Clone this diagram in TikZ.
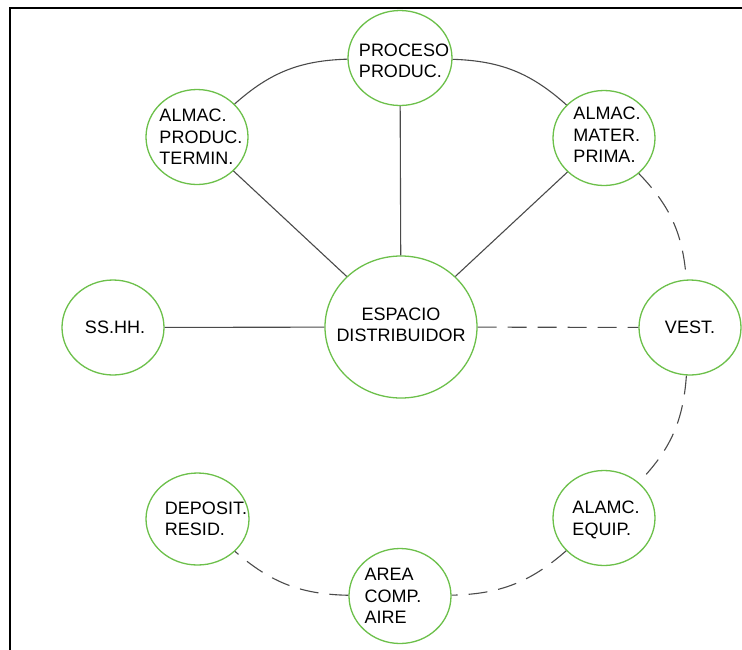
\documentclass[tikz,border=0pt]{standalone}
\usepackage{fontspec}
\setmainfont{Liberation Sans}
\usetikzlibrary{shapes.geometric}
\definecolor{ringgreen}{HTML}{6CC04A}
\definecolor{linkgray}{HTML}{4A4A4A}
\begin{document}
\begin{tikzpicture}[x=1pt,y=1pt,
  room/.style={ellipse, draw=ringgreen, line width=1.3pt, fill=white,
    inner sep=0pt, minimum width=102pt, minimum height=95pt},
  hub/.style={room, minimum width=152pt, minimum height=142pt},
  roomtext/.style={inner sep=0pt, align=left,
    font=\fontsize{18}{21.3}\selectfont},
  link/.style={draw=linkgray, line width=1.1pt},
  dlink/.style={link, dash pattern=on 19pt off 11pt}]
\useasboundingbox (0,0) rectangle (742,-649);
% page frame
\begin{scope}
  \clip (0,0) rectangle (742,-649);
  \draw[line width=1.5pt] (10,-8) rectangle (800,-700);
\end{scope}

% room outlines
\node[hub]  (esp)   at (401,-327) {};
\node[room, minimum width=104pt] (proc) at (400,-58) {};
\node[room] (term)  at (197,-137) {};
\node[room] (mat)   at (604,-138) {};
\node[room] (ss)    at (113,-327.5) {};
\node[room] (vest)  at (690,-327.5) {};
\node[room] (equip) at (604,-518) {};
\node[room, minimum width=103pt, minimum height=92pt] (dep) at (197.5,-519) {};
\node[room] (aire)  at (400,-596) {};

% room names
\node[roomtext, align=center] (esp-t) at (401,-324.5) {ESPACIO\\DISTRIBUIDOR};
\node[roomtext] (proc-t)  at (404,-61)  {PROCESO\\PRODUC.};
\node[roomtext] (term-t)  at (201,-137) {ALMAC.\\PRODUC.\\TERMIN.};
\node[roomtext] (mat-t)   at (607,-135) {ALMAC.\\MATER.\\PRIMA.};
\node[roomtext] (ss-t)    at (115,-327) {SS.HH.};
\node[roomtext] (vest-t)  at (690,-327) {VEST.};
\node[roomtext] (equip-t) at (606,-520) {ALAMC.\\EQUIP.};
\node[roomtext] (dep-t)   at (206,-519) {DEPOSIT.\\RESID.};
\node[roomtext] (aire-t)  at (393,-596) {AREA\\COMP.\\AIRE};

% solid links
\draw[link] (proc) to[bend right=20] (term);
\draw[link] (proc) to[bend left=20] (mat);
\draw[link] (proc) -- (esp);
\draw[link] (term) -- (esp);
\draw[link] (mat) -- (esp);
\draw[link] (ss) -- (esp);

% dashed links
\draw[dlink] (esp) -- (vest);
\draw[dlink] (mat) to[bend left=20] (vest);
\draw[dlink] (vest) to[bend left=20] (equip);
\draw[dlink] (equip) to[bend left=20] (aire);
\draw[dlink] (aire) to[bend left=20] (dep);
\end{tikzpicture}
\end{document}
